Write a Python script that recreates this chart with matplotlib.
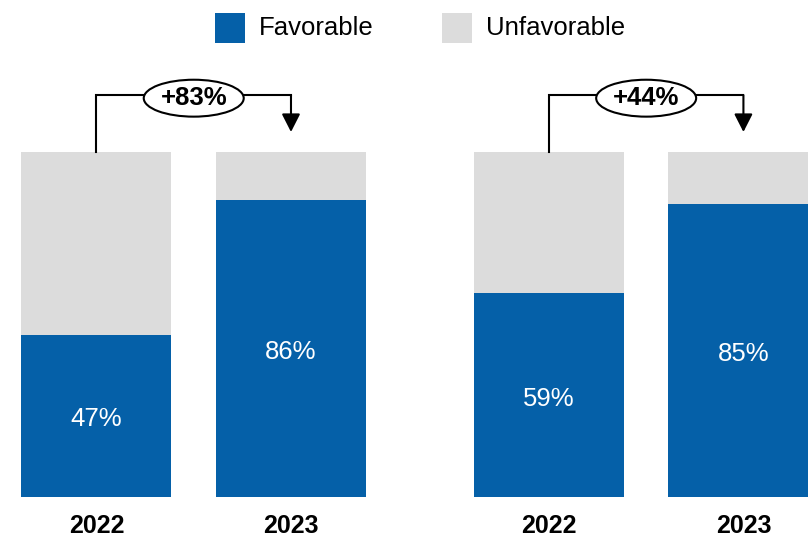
import matplotlib
matplotlib.use('Agg')
import matplotlib.pyplot as plt
from matplotlib.patches import Ellipse, Rectangle

plt.rcParams['font.family'] = ['Liberation Sans', 'DejaVu Sans']

# survey results, two panels with a 2022 / 2023 pair each
years = ['2022', '2023']
favorable_left = [47, 86]
favorable_right = [59, 85]
groups = [favorable_left, favorable_right]
legend_labels = ['Favorable', 'Unfavorable']

BLUE = '#0560A8'
GRAY = '#DCDCDC'

W, H = 808, 540
fig = plt.figure(figsize=(W / 100, H / 100), dpi=100)
ax = fig.add_axes([0, 0, 1, 1])
ax.set_xlim(-0.496, 3.658)
ax.set_ylim(-12.46, 144.06)
ax.axis('off')

group_offsets = [0, 2.326]
bar_width = 0.771
bracket_y = 116.5
arrow_tip = 105.8

for offset, fav in zip(group_offsets, groups):
    xs = [offset, offset + 1]
    unfav = [100 - v for v in fav]
    ax.bar(xs, fav, width=bar_width, color=BLUE, linewidth=0)
    ax.bar(xs, unfav, bottom=fav, width=bar_width, color=GRAY, linewidth=0)
    for x, v, yr in zip(xs, fav, years):
        ax.text(x, v / 2 - 1, f'{v}%', color='white', fontsize=18.5,
                ha='center', va='center')
        ax.text(x, -10.3, yr, fontsize=18, fontweight='bold',
                ha='center', va='baseline')

    # bracket from the 2022 bar to the 2023 bar with growth label
    ax.plot([xs[0], xs[0], xs[1]], [100, bracket_y, bracket_y],
            color='black', lw=1.5, solid_joinstyle='miter')
    ax.annotate('', xy=(xs[1], arrow_tip), xytext=(xs[1], bracket_y),
                arrowprops=dict(arrowstyle='-|>,head_length=0.55,head_width=0.28',
                                mutation_scale=20, color='black', lw=1.5,
                                shrinkA=0, shrinkB=0))
    mid = (xs[0] + xs[1]) / 2
    ax.add_patch(Ellipse((mid, 115.6), 0.514, 10.7, facecolor='white',
                         edgecolor='black', lw=1.5, zorder=3))
    growth = round((fav[1] - fav[0]) / fav[0] * 100)
    ax.text(mid, 115.6, f'+{growth}%', fontsize=18.5, fontweight='bold',
            ha='center', va='center', zorder=4)

# legend drawn by hand: square swatch + label
for left, color, label in zip([215, 442], [BLUE, GRAY], legend_labels):
    fig.add_artist(Rectangle((left / W, (H - 43) / H), 30 / W, 30 / H,
                             transform=fig.transFigure, facecolor=color,
                             edgecolor='none'))
    fig.text((left + 44) / W, (H - 28) / H, label, fontsize=18.5,
             ha='left', va='center')

fig.savefig('out.png', dpi=100)
